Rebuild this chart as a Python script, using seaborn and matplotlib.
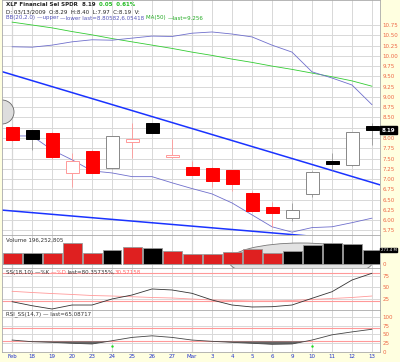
import numpy as np
import pandas as pd
import matplotlib
matplotlib.use("Agg")
import matplotlib.pyplot as plt
import matplotlib.transforms as mtrans
import seaborn as sns
from matplotlib.patches import Ellipse

# ---------------- data ----------------
day_labels = ["Feb", "18", "19", "20", "23", "24", "25", "26", "27", "Mar",
              "3", "4", "5", "6", "9", "10", "11", "12", "13"]
opens  = [8.28, 8.20, 8.12, 7.16, 7.69, 7.26, 7.91, 8.36, 7.54, 7.30,
          7.28, 7.22, 6.67, 6.31, 6.05, 6.64, 7.45, 7.34, 8.29]
highs  = [8.30, 8.20, 8.14, 7.64, 7.70, 8.06, 8.37, 8.37, 7.97, 7.45,
          7.30, 7.23, 6.70, 6.45, 6.42, 7.20, 7.63, 8.15, 8.37]
lows   = [7.93, 7.71, 7.50, 6.82, 7.14, 7.24, 7.51, 8.11, 7.51, 7.10,
          6.82, 6.70, 6.20, 5.84, 5.97, 6.57, 7.22, 7.32, 7.83]
closes = [7.95, 7.97, 7.53, 7.44, 7.16, 8.05, 7.98, 8.12, 7.59, 7.11,
          6.96, 6.88, 6.23, 6.18, 6.25, 7.18, 7.37, 8.14, 8.19]
volume_m = [221, 221, 221, 416, 221, 273, 326, 318, 254, 189,
            189, 228, 287, 221, 248, 365, 416, 391, 273.4]
bb_upper = [10.22, 10.21, 10.26, 10.34, 10.39, 10.38, 10.43, 10.48, 10.47, 10.55,
            10.58, 10.53, 10.46, 10.26, 10.09, 9.61, 9.46, 9.29, 8.81]
bb_lower = [8.05, 8.05, 7.71, 7.47, 7.20, 7.15, 7.06, 7.06, 6.91, 6.77,
            6.64, 6.42, 6.13, 5.84, 5.71, 5.82, 5.84, 5.94, 6.05]
ma50     = [10.82, 10.75, 10.68, 10.59, 10.51, 10.42, 10.34, 10.26, 10.18, 10.09,
            10.01, 9.92, 9.84, 9.75, 9.67, 9.58, 9.49, 9.39, 9.26]
trend_x    = [-0.6, 18.4]
trend_high = [9.63, 6.86]
trend_low  = [6.25, 5.47]
stoch_k = [18.2, 9.4, 2.2, 10.9, 10.9, 24.1, 32.8, 46.0, 43.8, 36.5,
           21.9, 10.9, 6.6, 7.2, 10.9, 25.6, 40.0, 65.6, 80.4]
stoch_d = [40.9, 38.3, 36.0, 34.0, 31.7, 30.6, 29.0, 27.4, 26.3, 24.0,
           22.0, 20.8, 19.7, 19.7, 20.8, 23.0, 25.2, 27.4, 30.6]
rsi = [33.7, 28.9, 27.1, 24.3, 22.3, 31.7, 41.4, 46.0, 41.4, 33.7,
       30.0, 27.1, 24.3, 21.4, 22.3, 33.7, 48.9, 57.4, 65.1]
rsi_signal_days = [5, 15]
rsi_signal_vals = [15.7, 15.7]

# ---------------- style ----------------
sns.set_theme(style="white")
plt.rcParams["font.family"] = ["DejaVu Sans"]
BG = "#ffffe0"
GRID = "#d8d8d8"
LAB = "#ee6644"
XLAB = "#2233cc"

W, H = 400, 362
fig = plt.figure(figsize=(W / 100, H / 100), dpi=100, facecolor=BG)


def panel(top, bottom):
    return fig.add_axes([2 / W, 1 - bottom / H, 378 / W, (bottom - top) / H])


ax = panel(0, 235)
axv = panel(235, 268)
axs = panel(268, 310)
axr = panel(310, 352)

idx = np.arange(len(closes))
for a in (ax, axv, axs, axr):
    a.set_facecolor("white")
    a.set_xlim(-0.5, 18.4)
    a.set_xticks(idx)
    a.grid(True, axis="x", color=GRID, lw=0.7)
    for m in (0, 9):
        a.axvline(m, color="#aaaaaa", lw=0.8, zorder=0.5)
    a.yaxis.tick_right()
    a.tick_params(axis="y", length=0, pad=2, labelsize=4, labelcolor=LAB)
    a.tick_params(axis="x", length=0)
    for s in a.spines.values():
        s.set_color("#aaaaaa")
        s.set_linewidth(0.6)
    a.set_xlabel("")
    a.set_ylabel("")
for a in (ax, axv, axs):
    a.set_xticklabels([])
axr.set_xticklabels(day_labels)
axr.tick_params(axis="x", labelsize=4, labelcolor=XLAB, pad=1.5)

# ---------------- price panel ----------------
ax.set_ylim(5.64, 11.358)
pticks = np.arange(5.75, 10.76, 0.25)
ax.set_yticks(pticks)
ax.set_yticklabels(["" if abs(t - 8.25) < 1e-6 else f"{t:.2f}" for t in pticks])
ax.grid(True, axis="y", color=GRID, lw=0.7)

ax.add_patch(Ellipse((-0.5, 8.633), 1.2, 0.584, facecolor="#dddddd",
                     edgecolor="#666666", lw=0.6, zorder=1))

sns.lineplot(x=trend_x, y=trend_high, ax=ax, color="#1a33ff", lw=1.1, zorder=2)
sns.lineplot(x=trend_x, y=trend_low, ax=ax, color="#1a33ff", lw=1.1, zorder=2)
sns.lineplot(x=idx, y=ma50, ax=ax, color="#33cc33", lw=0.6, zorder=2)
sns.lineplot(x=idx, y=bb_upper, ax=ax, color="#6f6fcc", lw=0.6, zorder=2)
sns.lineplot(x=idx, y=bb_lower, ax=ax, color="#6f6fcc", lw=0.6, zorder=2)

prev = [None] + closes[:-1]
up_flags = []
for i, (o, h, l, c, p) in enumerate(zip(opens, highs, lows, closes, prev)):
    up = p is not None and c > p
    up_flags.append(up)
    hollow = c > o
    if up:
        face = "white" if hollow else "black"
        edge = "#888888" if hollow else "black"
        wick = "#999999"
    else:
        face = "white" if hollow else "#ff0000"
        edge = "#ff9999" if hollow else "#ff0000"
        wick = "#ff9999"
    ax.vlines(i, l, h, color=wick, lw=0.6, zorder=3)
    ax.bar(i, abs(c - o), bottom=min(o, c), width=0.65, color=face,
           edgecolor=edge, lw=0.7, zorder=4)

tr = mtrans.blended_transform_factory(ax.transAxes, ax.transData)
ax.text(1.004, closes[-1], f"{closes[-1]:.2f}", transform=tr, color="white",
        fontsize=4, fontweight="bold", va="center", ha="left",
        bbox=dict(boxstyle="square,pad=0.25", fc="black", ec="black"), clip_on=False)


def rainbow(a, x, y, parts, transform, **kw):
    t = a.text(x, y, parts[0][0], color=parts[0][1], transform=transform,
               va="bottom", **kw)
    for s, col in parts[1:]:
        t = a.annotate(s, xycoords=t, xy=(1, 0), va="bottom", color=col, **kw)
    return t


rainbow(ax, 4 / 378, 1 - 7 / 235,
        [("XLF Financial Sel SPDR  ", "#222222"), ("8.19  ", "#222222"),
         ("0.05  0.61%", "#22bb22")], ax.transAxes, fontsize=4, fontweight="bold")
rainbow(ax, 4 / 378, 1 - 14 / 235,
        [("D: 03/13/2009  O:8.29  H:8.40  L:7.97  C:8.19  V:", "#222222")],
        ax.transAxes, fontsize=4)
rainbow(ax, 4 / 378, 1 - 20.5 / 235,
        [("BB(20,2.0) ", "#5555bb"), ("\u2014upper ", "#5555bb"),
         ("\u2014lower last=8.80582,6.05418 ", "#5555bb"),
         ("MA(50) ", "#22aa22"), ("\u2014last=9.256", "#22aa22")],
        ax.transAxes, fontsize=4)

# ---------------- volume panel ----------------
axv.set_ylim(-78, 566)
axv.set_yticks([0])
axv.set_yticklabels(["0"])
axv.add_patch(Ellipse((14.45, 54), 7.2, 712, facecolor="#e2e2e2",
                      edgecolor="#777777", lw=0.6, zorder=0.8))
vdf = pd.DataFrame({"day": idx, "vol": volume_m,
                    "dir": ["up" if u else "down" for u in up_flags]})
sns.barplot(data=vdf, x="day", y="vol", hue="dir", native_scale=True,
            palette={"up": "black", "down": "#ff0000"}, dodge=False,
            width=0.95, edgecolor="#999999", linewidth=0.6, legend=False,
            ax=axv, zorder=2)
axv.set_xlim(-0.5, 18.4)
axv.set_xticklabels([])
axv.set_xlabel("")
axv.set_ylabel("")
trv = mtrans.blended_transform_factory(axv.transAxes, axv.transData)
axv.text(1.002, volume_m[-1], "273.4 M", transform=trv, color="white",
         fontsize=2.8, va="center", ha="left",
         bbox=dict(boxstyle="square,pad=0.12", fc="black", ec="black"), clip_on=False)
axv.text(4 / 378, 1 - 5 / 33, "Volume 196,252,805", transform=axv.transAxes,
         fontsize=4, color="#333333", va="center", ha="left")

# ---------------- slow stochastic panel ----------------
axs.set_ylim(0, 91.9)
axs.set_yticks([25, 50, 75])
axs.grid(True, axis="y", color=GRID, lw=0.7)
for lvl in (80, 20):
    axs.axhline(lvl, color="#ff9999", lw=0.8, zorder=1)
sns.lineplot(x=idx, y=stoch_d, ax=axs, color="#ff9999", lw=0.6, zorder=2)
sns.lineplot(x=idx, y=stoch_k, ax=axs, color="#333333", lw=0.6, zorder=3)
rainbow(axs, 4 / 378, 1 - 7 / 42,
        [("SS(18,10) ", "#333333"), ("\u2014%K ", "#333333"), ("\u2014%D ", "#ff6666"),
         ("last=80.35735%,", "#333333"), ("30.57158", "#ff6666")],
        axs.transAxes, fontsize=4)

# ---------------- RSI panel ----------------
axr.set_ylim(-1, 121)
axr.set_yticks([0, 25, 50, 75, 100])
axr.grid(True, axis="y", color=GRID, lw=0.7)
for lvl in (70, 30):
    axr.axhline(lvl, color="#ff9999", lw=0.8, zorder=1)
rsi_arr = np.array(rsi)
axr.fill_between(idx, rsi_arr, 30, where=rsi_arr < 30, interpolate=True,
                 color="#666666", lw=0, zorder=2)
sns.lineplot(x=idx, y=rsi, ax=axr, color="#444444", lw=0.6, zorder=3)
sns.scatterplot(x=rsi_signal_days, y=rsi_signal_vals, ax=axr, color="#22dd22",
                s=3, linewidth=0, zorder=4)
rainbow(axr, 4 / 378, 1 - 7 / 42,
        [("RSI_SS(14,7) ", "#333333"), ("\u2014 last=65.08717", "#333333")],
        axr.transAxes, fontsize=4)
axr.set_xlabel("")
axr.set_ylabel("")

fig.savefig("out.png", dpi=100, facecolor=BG)
